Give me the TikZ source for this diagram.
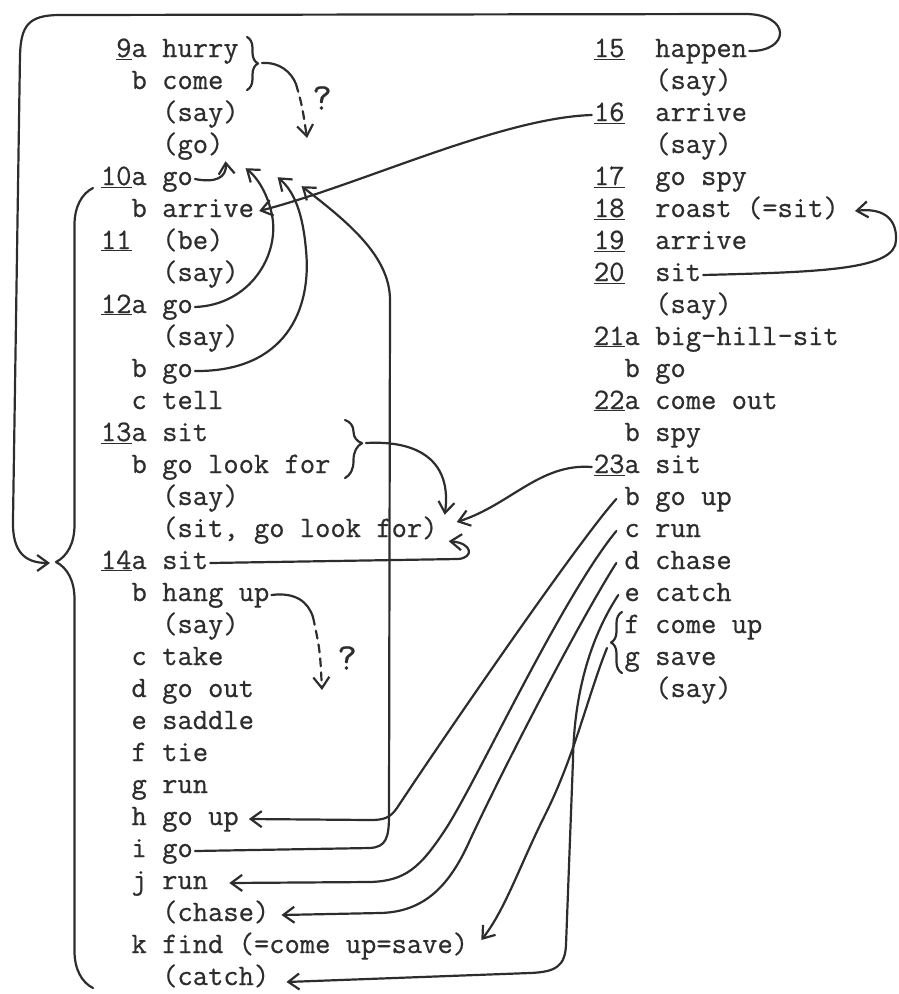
\documentclass[tikz,border=0pt]{standalone}
\usepackage{fontspec}
\usepackage{xcolor}
\usepackage{tikz}
\usetikzlibrary{arrows.meta, decorations.pathreplacing}
\newfontfamily\typeface{Latin Modern Mono}[FakeBold=0.6]
\definecolor{ink}{RGB}{45,45,45}
\newcommand{\tyfont}{\typeface\fontsize{29.7}{32}\selectfont}
\newcommand{\un}[1]{\underline{#1}}
\tikzset{
  entry/.style={anchor=base west, inner sep=2pt, text height=18pt, text depth=6pt,
    font=\tyfont, text=ink},
  numlab/.style={anchor=base east, inner sep=2pt, text height=18pt, text depth=6pt,
    font=\tyfont, text=ink},
  query/.style={font=\typeface\fontsize{38}{40}\selectfont, text=ink, inner sep=1pt},
  stroke/.style={line width=2.2pt, color=ink, line cap=round, line join=round},
  arrow/.style={stroke, -{Straight Barb[length=11pt, width=16pt]}},
  dasharrow/.style={arrow, dash pattern=on 8pt off 6pt},
  bracket/.style={stroke, decorate, decoration={brace, amplitude=#1}}
}

\begin{document}
\begin{tikzpicture}[x=1pt, y=-1pt]
  \useasboundingbox (0,0) rectangle (899,994);

  % left column: 9--14
  \node[numlab] (n9a) at (149,57) {\un{9}a};
  \node[entry] (t9a) at (160,57) {hurry};
  \node[numlab] (n9b) at (149,89) {b};
  \node[entry] (t9b) at (160,89) {come};
  \node[entry] (t9say) at (160,121) {(say)};
  \node[entry] (t9go) at (160,153) {(go)};
  \node[numlab] (n10a) at (149,185) {\un{10}a};
  \node[entry] (t10a) at (160,185) {go};
  \node[numlab] (n10b) at (149,217) {b};
  \node[entry] (t10b) at (160,217) {arrive};
  \node[numlab] (n11) at (149,249) {\un{11}\phantom{a}};
  \node[entry] (t11) at (160,249) {(be)};
  \node[entry] (t11say) at (160,281) {(say)};
  \node[numlab] (n12a) at (149,313) {\un{12}a};
  \node[entry] (t12a) at (160,313) {go};
  \node[entry] (t12say) at (160,345) {(say)};
  \node[numlab] (n12b) at (149,377) {b};
  \node[entry] (t12b) at (160,377) {go};
  \node[numlab] (n12c) at (149,409) {c};
  \node[entry] (t12c) at (160,409) {tell};
  \node[numlab] (n13a) at (149,441) {\un{13}a};
  \node[entry] (t13a) at (160,441) {sit};
  \node[numlab] (n13b) at (149,473) {b};
  \node[entry] (t13b) at (160,473) {go look for};
  \node[entry] (t13say) at (160,505) {(say)};
  \node[entry] (t13sit) at (160,537) {(sit, go look for)};
  \node[numlab] (n14a) at (149,569) {\un{14}a};
  \node[entry] (t14a) at (160,569) {sit};
  \node[numlab] (n14b) at (149,601) {b};
  \node[entry] (t14b) at (160,601) {hang up};
  \node[entry] (t14say) at (160,633) {(say)};
  \node[numlab] (n14c) at (149,665) {c};
  \node[entry] (t14c) at (160,665) {take};
  \node[numlab] (n14d) at (149,697) {d};
  \node[entry] (t14d) at (160,697) {go out};
  \node[numlab] (n14e) at (149,729) {e};
  \node[entry] (t14e) at (160,729) {saddle};
  \node[numlab] (n14f) at (149,761) {f};
  \node[entry] (t14f) at (160,761) {tie};
  \node[numlab] (n14g) at (149,793) {g};
  \node[entry] (t14g) at (160,793) {run};
  \node[numlab] (n14h) at (149,825) {h};
  \node[entry] (t14h) at (160,825) {go up};
  \node[numlab] (n14i) at (149,857) {i};
  \node[entry] (t14i) at (160,857) {go};
  \node[numlab] (n14j) at (149,889) {j};
  \node[entry] (t14j) at (160,889) {run};
  \node[entry] (t14chase) at (160,921) {(chase)};
  \node[numlab] (n14k) at (149,953) {k};
  \node[entry] (t14k) at (160,953) {find (=come up=save)};
  \node[entry] (t14catch) at (160,985) {(catch)};

  % right column: 15--23
  \node[numlab] (n15) at (642,57) {\un{15}\phantom{a}};
  \node[entry] (t15) at (653,57) {happen};
  \node[entry] (t15say) at (653,89) {(say)};
  \node[numlab] (n16) at (642,121) {\un{16}\phantom{a}};
  \node[entry] (t16) at (653,121) {arrive};
  \node[entry] (t16say) at (653,153) {(say)};
  \node[numlab] (n17) at (642,185) {\un{17}\phantom{a}};
  \node[entry] (t17) at (653,185) {go spy};
  \node[numlab] (n18) at (642,217) {\un{18}\phantom{a}};
  \node[entry] (t18) at (653,217) {roast (=sit)};
  \node[numlab] (n19) at (642,249) {\un{19}\phantom{a}};
  \node[entry] (t19) at (653,249) {arrive};
  \node[numlab] (n20) at (642,281) {\un{20}\phantom{a}};
  \node[entry] (t20) at (653,281) {sit};
  \node[entry] (t20say) at (653,313) {(say)};
  \node[numlab] (n21a) at (642,345) {\un{21}a};
  \node[entry] (t21a) at (653,345) {big-hill-sit};
  \node[numlab] (n21b) at (642,377) {b};
  \node[entry] (t21b) at (653,377) {go};
  \node[numlab] (n22a) at (642,409) {\un{22}a};
  \node[entry] (t22a) at (653,409) {come out};
  \node[numlab] (n22b) at (642,441) {b};
  \node[entry] (t22b) at (653,441) {spy};
  \node[numlab] (n23a) at (642,473) {\un{23}a};
  \node[entry] (t23a) at (653,473) {sit};
  \node[numlab] (n23b) at (642,505) {b};
  \node[entry] (t23b) at (653,505) {go up};
  \node[numlab] (n23c) at (642,537) {c};
  \node[entry] (t23c) at (653,537) {run};
  \node[numlab] (n23d) at (642,569) {d};
  \node[entry] (t23d) at (653,569) {chase};
  \node[numlab] (n23e) at (642,601) {e};
  \node[entry] (t23e) at (653,601) {catch};
  \node[numlab] (n23f) at (642,633) {f};
  \node[entry] (t23f) at (653,633) {come up};
  \node[numlab] (n23g) at (642,665) {g};
  \node[entry] (t23g) at (653,665) {save};
  \node[entry] (t23say) at (653,697) {(say)};

  % braces
  \draw[bracket=37, decoration={aspect=0.5325}] (93,988) -- (93,188);
  \coordinate (bigtip) at (50,563);
  \draw[bracket=11] (247,37) -- (247,90);
  \coordinate (tip9) at (262,63);
  \draw[bracket=17, decoration={aspect=0.4}] (345,420) -- (345,478);
  \coordinate (tip13) at (366,443);
  \draw[bracket=11] (622,673) -- (622,612);
  \coordinate (tipfg) at (607,648);

  % doubtful links
  \coordinate (q9) at (296,84);
  \coordinate (q9end) at (307,138);
  \draw[stroke] (tip9) .. controls (280,62) and (291,72) .. (q9);
  \draw[dasharrow] (q9) .. controls (302,105) .. (q9end);
  \node[query] (ask9) at (322,98) {?};
  \coordinate (q14) at (313,617);
  \coordinate (q14end) at (322,690);
  \draw[stroke] (t14b.east) .. controls (296,592) and (308,602) .. (q14);
  \draw[dasharrow] (q14) .. controls (320,650) .. (q14end);
  \node[query] (ask14) at (347,658) {?};

  % 15 back to 14
  \draw[arrow] (t15.east) .. controls (790,52) and (792,14) .. (745,14) -- (60,15)
    .. controls (28,15) and (21,26) .. (20,55) -- (13,520)
    .. controls (12,552) and (25,563) .. (bigtip);

  % the go's
  \draw[arrow] (t10a.east) .. controls (215,183) and (227,178) .. (t9go.south east);
  \draw[arrow] (t12a.east) .. controls (250,305) and (280,255) .. (272,215)
    .. controls (268,195) and (258,178) .. ([xshift=20pt,yshift=-7pt]t9go.south east);
  \draw[arrow] (t12b.east) .. controls (285,372) and (312,310) .. (306,250)
    .. controls (303,215) and (295,192) .. ([xshift=52pt,yshift=-16pt]t9go.south east);
  \draw[arrow] (t14i.east) -- (370,848) .. controls (386,847) and (389,838) .. (389,815)
    -- (390,300) .. controls (390,255) and (345,220) .. ([xshift=76pt,yshift=-25pt]t9go.south east);
  \draw[arrow] (n16.west) .. controls (500,118) and (360,185) .. ([xshift=3pt]t10b.east);

  % sit, go look for
  \draw[arrow] (tip13) .. controls (420,440) and (452,462) .. ([xshift=5pt,yshift=2pt]t13sit.north east);
  \draw[arrow] (n23a.west) .. controls (540,463) and (510,505) .. ([xshift=17pt,yshift=9pt]t13sit.east);
  \draw[arrow] (t14a.east) -- (458,559) .. controls (474,558) and (473,543) .. ([xshift=9pt,yshift=4pt]t13sit.south east);

  % roast = sit
  \draw[arrow] (t20.east) .. controls (820,272) and (896,270) .. (896,240)
    .. controls (897,216) and (880,208) .. ([xshift=14pt]t18.east);

  % 23 down to 14
  \draw[arrow] ([xshift=-6pt]n23b.west) .. controls (575,545) and (425,765) .. (397,808)
    .. controls (390,818) and (384,820) .. (370,820) -- ([xshift=8pt]t14h.east);
  \draw[arrow] ([xshift=-6pt]n23c.west) .. controls (560,600) and (475,785) .. (445,830)
    .. controls (420,868) and (405,881) .. (370,882) -- ([xshift=19pt]t14j.east);
  \draw[arrow] ([xshift=-6pt]n23d.west) .. controls (580,620) and (505,765) .. (470,840)
    .. controls (450,885) and (425,912) .. (380,913) -- ([xshift=10pt]t14chase.east);
  \draw[arrow] ([xshift=-4pt]n23e.west) .. controls (592,635) and (574,690) .. (573,760)
    -- (566,945) .. controls (565,966) and (556,972) .. (530,973) -- ([xshift=15pt,yshift=-3pt]t14catch.east);
  \draw[arrow] (tipfg) .. controls (588,695) and (575,755) .. (545,815)
    .. controls (520,865) and (505,910) .. ([xshift=11pt,yshift=7pt]t14k.east);
\end{tikzpicture}
\end{document}
